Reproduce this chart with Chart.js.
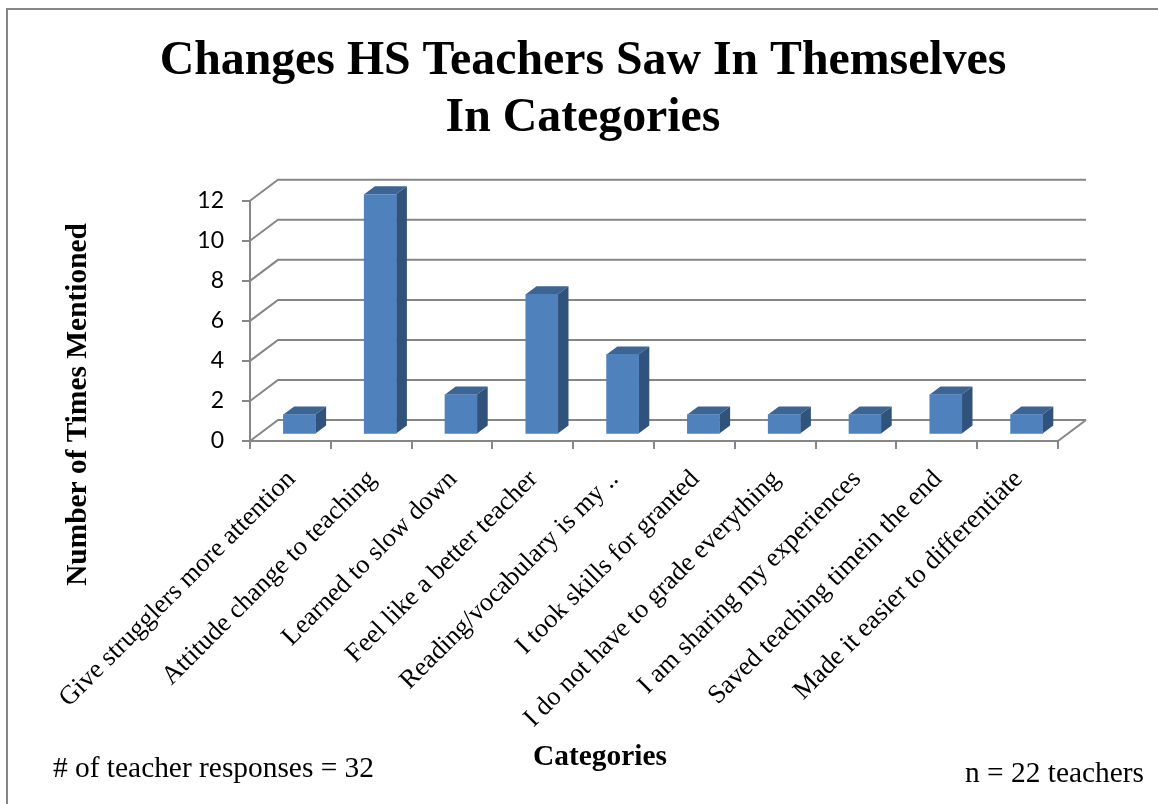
<!DOCTYPE html>
<html>
<head>
<meta charset="utf-8">
<title>Changes HS Teachers Saw In Themselves</title>
<script src="https://cdn.jsdelivr.net/npm/chart.js@4"></script>
<style>
    html, body { margin: 0; padding: 0; background: #fff; }
    #wrap { position: relative; width: 1158px; height: 804px; overflow: hidden; }
    canvas { display: block; }
</style>
</head>
<body>
<div id="wrap"><canvas id="chart" width="1158" height="804"></canvas></div>
<script>
const categories = [
    'Give strugglers more attention',
    'Attitude change to teaching',
    'Learned to slow down',
    'Feel like a better teacher',
    'Reading/vocabulary is my ..',
    'I took skills for granted',
    'I do not have to grade everything',
    'I am sharing my experiences',
    'Saved teaching timein the end',
    'Made it easier to differentiate'
];
const mentions = [1, 12, 2, 7, 4, 1, 1, 1, 2, 1];
const titleLines = ['Changes HS Teachers Saw In Themselves', 'In Categories'];
const yAxisTitle = 'Number of Times Mentioned';
const xAxisTitle = 'Categories';
const noteLeft = '# of teacher responses = 32';
const noteRight = 'n = 22 teachers';

const SERIF = '"Liberation Serif", serif';
const GREY = '#868686';
const DEPTH_X = 28, DEPTH_Y = 21;       // back wall offset
const BAR_DX = 9, BAR_DY = 6.5;         // bars stand a bit inside the floor
const SIDE_DX = 10.7, SIDE_DY = 8;      // depth of each bar

const wallAndBars = {
    id: 'wallAndBars',
    beforeDatasetsDraw(chart) {
        const { ctx, scales: { x, y } } = chart;
        const left = x.left, right = x.right;
        ctx.save();
        ctx.strokeStyle = GREY;
        ctx.lineWidth = 2;
        y.ticks.forEach(t => {
            const py = y.getPixelForValue(t.value);
            ctx.beginPath();
            ctx.moveTo(left, py);
            ctx.lineTo(left + DEPTH_X, py - DEPTH_Y);
            ctx.lineTo(right + DEPTH_X, py - DEPTH_Y);
            ctx.stroke();
        });
        // floor right edge
        const y0 = y.getPixelForValue(0);
        ctx.beginPath();
        ctx.moveTo(right, y0);
        ctx.lineTo(right + DEPTH_X, y0 - DEPTH_Y);
        ctx.stroke();
        ctx.restore();
    },
    beforeDatasetDraw(chart) {
        const { ctx } = chart;
        const meta = chart.getDatasetMeta(0);
        ctx.save();
        ctx.translate(BAR_DX, -BAR_DY);
        // top and side faces first, front face comes from the library
        meta.data.forEach(bar => {
            const l = bar.x - bar.width / 2, r = bar.x + bar.width / 2;
            ctx.fillStyle = '#3c6594';
            ctx.beginPath();
            ctx.moveTo(l, bar.y);
            ctx.lineTo(l + SIDE_DX, bar.y - SIDE_DY);
            ctx.lineTo(r + SIDE_DX, bar.y - SIDE_DY);
            ctx.lineTo(r, bar.y);
            ctx.closePath();
            ctx.fill();
            ctx.fillStyle = '#31527b';
            ctx.beginPath();
            ctx.moveTo(r, bar.y);
            ctx.lineTo(r + SIDE_DX, bar.y - SIDE_DY);
            ctx.lineTo(r + SIDE_DX, bar.base - SIDE_DY);
            ctx.lineTo(r, bar.base);
            ctx.closePath();
            ctx.fill();
        });
    },
    afterDatasetDraw(chart) {
        chart.ctx.restore();
    },
    afterDraw(chart) {
        const { ctx, width, height } = chart;
        ctx.save();
        // slide frame, only top and left are in view
        ctx.strokeStyle = GREY;
        ctx.lineWidth = 2;
        ctx.beginPath();
        ctx.moveTo(7, height);
        ctx.lineTo(7, 9);
        ctx.lineTo(width, 9);
        ctx.stroke();

        ctx.fillStyle = '#000';
        ctx.textBaseline = 'alphabetic';
        ctx.font = '29.4px ' + SERIF;
        ctx.textAlign = 'left';
        ctx.fillText(noteLeft, 53, 777);
        ctx.textAlign = 'right';
        ctx.fillText(noteRight, 1144, 782);

        ctx.font = 'bold 29.4px ' + SERIF;
        ctx.textAlign = 'center';
        ctx.fillText(xAxisTitle, 600, 765);
        ctx.translate(86, 404.5);
        ctx.rotate(-Math.PI / 2);
        ctx.fillText(yAxisTitle, 0, 0);
        ctx.restore();
    }
};

new Chart(document.getElementById('chart'), {
    type: 'bar',
    data: {
        labels: categories,
        datasets: [{
            data: mentions,
            backgroundColor: '#4f81bd',
            barThickness: 32,
            borderWidth: 0
        }]
    },
    plugins: [wallAndBars],
    options: {
        responsive: false,
        animation: false,
        layout: { padding: { left: 108, right: 100, top: 0, bottom: 12 } },
        plugins: {
            legend: { display: false },
            tooltip: { enabled: false },
            title: {
                display: true,
                text: titleLines,
                color: '#000',
                font: { family: SERIF, size: 47.8, weight: 'bold', lineHeight: 1.19 },
                padding: { top: 33, bottom: 54 }
            }
        },
        scales: {
            x: {
                grid: { drawOnChartArea: false, color: GREY, lineWidth: 2, tickLength: 8 },
                border: { color: GREY, width: 2 },
                ticks: {
                    color: '#000',
                    font: { family: SERIF, size: 26.4 },
                    minRotation: 45,
                    maxRotation: 45,
                    autoSkip: false,
                    labelOffset: 1,
                    padding: 15
                },
                afterFit(s) { s.height = 351; }
            },
            y: {
                min: 0,
                max: 12,
                grid: { drawOnChartArea: false, color: GREY, lineWidth: 2, tickLength: 8 },
                border: { color: GREY, width: 2 },
                ticks: {
                    stepSize: 2,
                    color: '#000',
                    font: { family: 'Lato', size: 23 },
                    padding: 18
                },
                afterFit(s) { s.width = 142; }
            }
        }
    }
});
</script>
</body>
</html>
